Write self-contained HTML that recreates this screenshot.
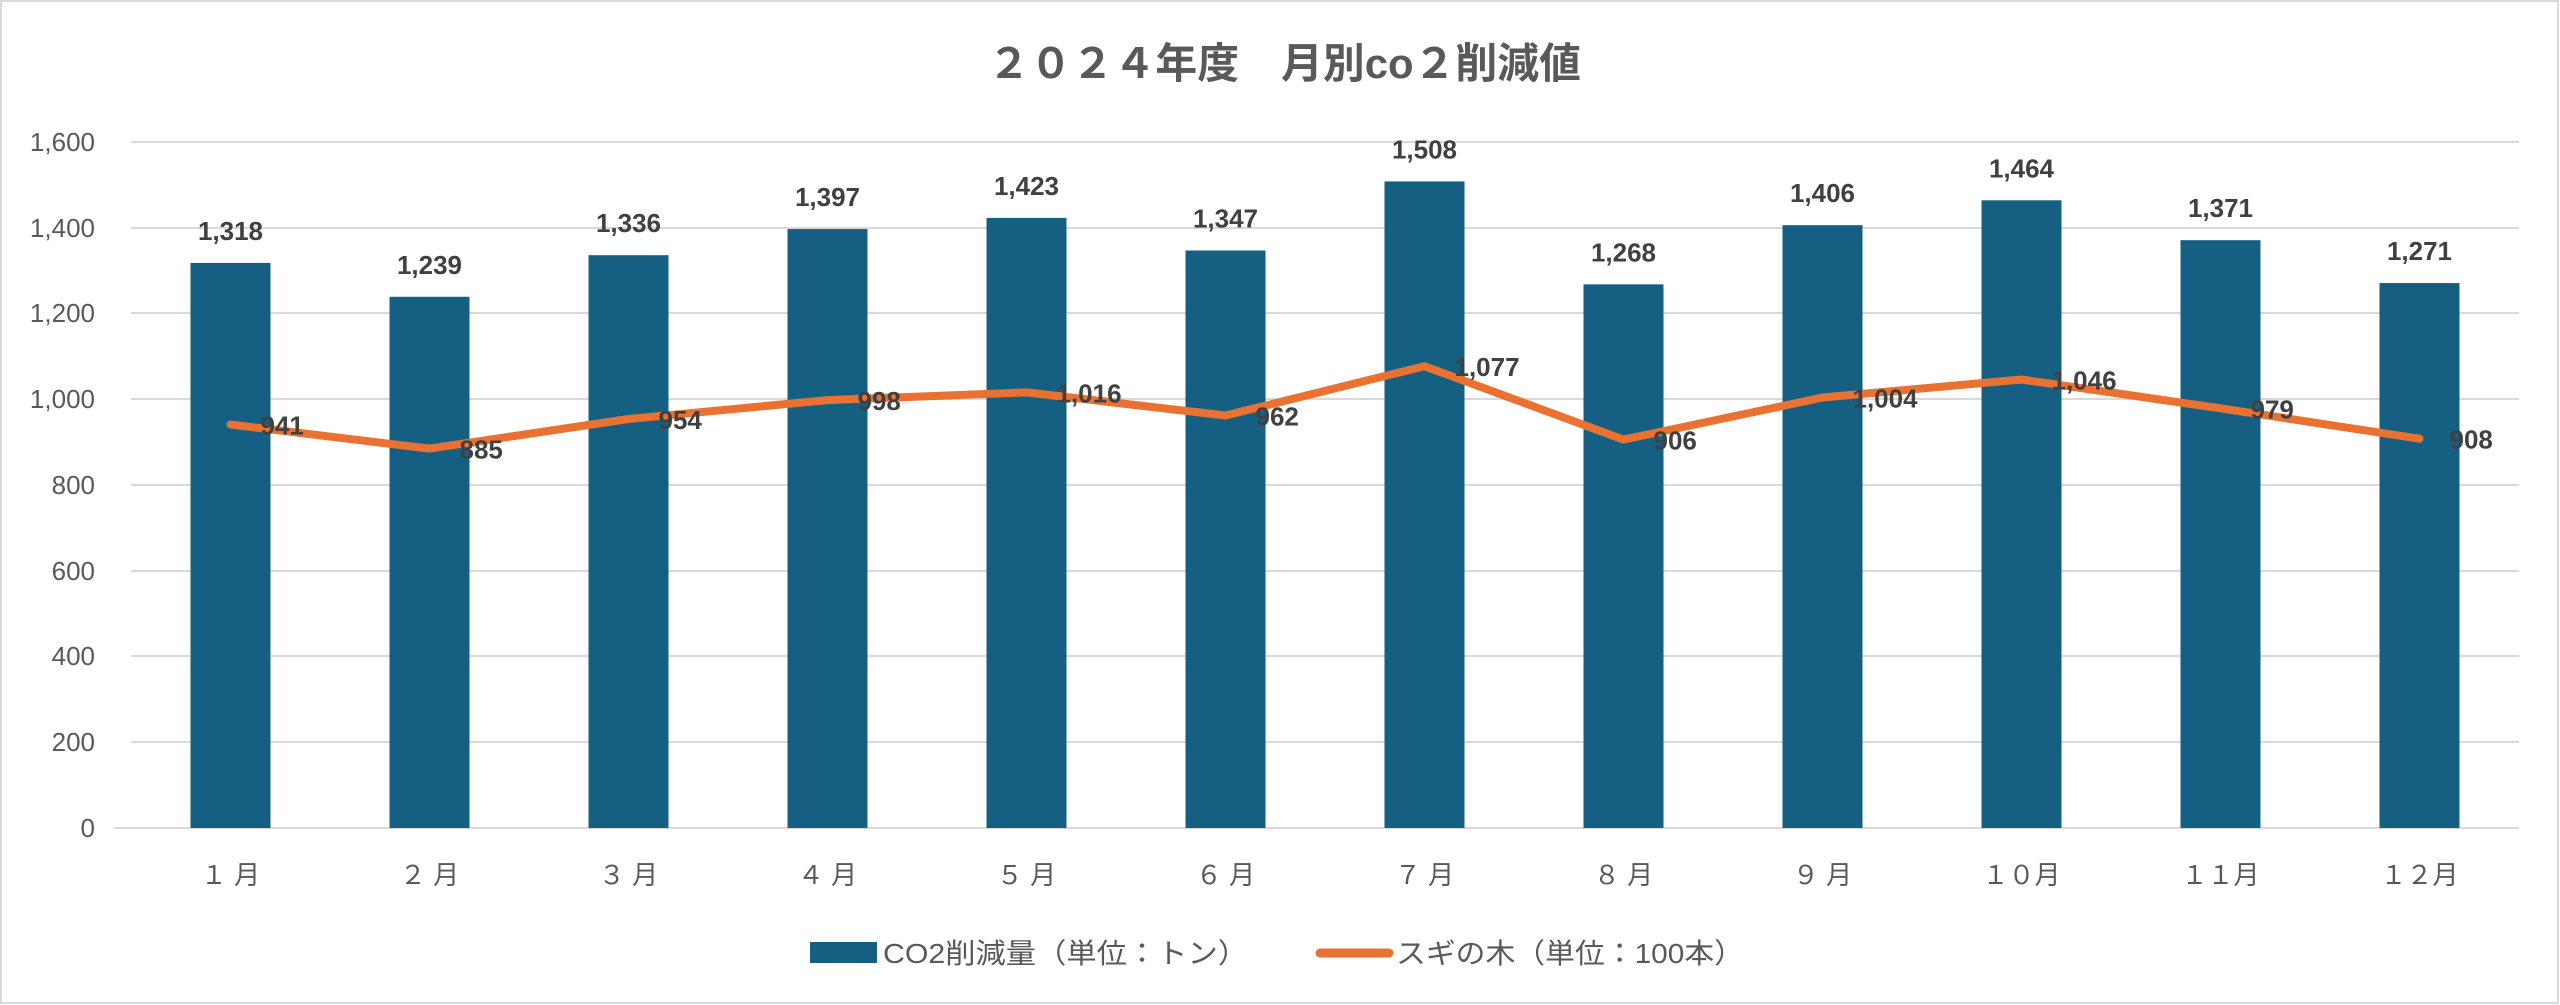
<!DOCTYPE html>
<html><head><meta charset="utf-8"><style>
html,body{margin:0;padding:0;background:#fff}
svg{display:block}
</style></head><body>
<svg width="2560" height="1005" viewBox="0 0 2560 1005" xmlns="http://www.w3.org/2000/svg">
<rect x="1" y="1" width="2557" height="1002" fill="#fff" stroke="#d9d9d9" stroke-width="2"/>
<text x="988" y="78" textLength="593" lengthAdjust="spacingAndGlyphs" font-family="'Liberation Sans','Noto Sans CJK JP',sans-serif" font-size="42" font-weight="bold" fill="#595959">２０２４年度　月別co２削減値</text>
<g stroke="#d9d9d9" stroke-width="2">
<line x1="131" x2="2519" y1="142" y2="142"/>
<line x1="131" x2="2519" y1="228" y2="228"/>
<line x1="131" x2="2519" y1="313" y2="313"/>
<line x1="131" x2="2519" y1="399" y2="399"/>
<line x1="131" x2="2519" y1="485" y2="485"/>
<line x1="131" x2="2519" y1="571" y2="571"/>
<line x1="131" x2="2519" y1="656" y2="656"/>
<line x1="131" x2="2519" y1="742" y2="742"/>
<line x1="114" x2="2519" y1="828" y2="828"/>
</g>
<g font-family="'Liberation Sans',sans-serif" font-size="26" fill="#595959" text-anchor="end">
<text x="95" y="151">1,600</text><text x="95" y="237">1,400</text><text x="95" y="322">1,200</text>
<text x="95" y="408">1,000</text><text x="95" y="494">800</text><text x="95" y="580">600</text>
<text x="95" y="665">400</text><text x="95" y="751">200</text><text x="95" y="837">0</text>
</g>
<g fill="#156082" id="bars"></g>
<g id="line"></g>
<g id="labels" font-family="'Liberation Sans',sans-serif" font-size="26" font-weight="bold" fill="#404040"></g>
<g id="xl" font-family="'Liberation Sans','Noto Sans CJK JP',sans-serif" font-size="26" fill="#595959" text-anchor="middle"></g>
<rect x="810" y="942" width="67" height="21" fill="#156082"/>
<text x="883" y="963" textLength="365" lengthAdjust="spacingAndGlyphs" font-family="'Liberation Sans','Noto Sans CJK JP',sans-serif" font-size="28" fill="#595959">CO2削減量（単位：トン）</text>
<line x1="1320" x2="1389" y1="953" y2="953" stroke="#E97132" stroke-width="9" stroke-linecap="round"/>
<text x="1396" y="963" textLength="348" lengthAdjust="spacingAndGlyphs" font-family="'Liberation Sans','Noto Sans CJK JP',sans-serif" font-size="28" fill="#595959">スギの木（単位：100本）</text>
</svg>
<script>
var co=[1318,1239,1336,1397,1423,1347,1508,1268,1406,1464,1371,1271];
var tr=[941,885,954,998,1016,962,1077,906,1004,1046,979,908];
var ns="http://www.w3.org/2000/svg";
function Y(v){return 828-v*0.42875;}
function el(t,a,p,txt){var e=document.createElementNS(ns,t);for(var k in a)e.setAttribute(k,a[k]);if(txt)e.textContent=txt;document.getElementById(p).appendChild(e);}
var pts=[];
var xlab=["１ 月","２ 月","３ 月","４ 月","５ 月","６ 月","７ 月","８ 月","９ 月","１０月","１１月","１２月"];
for(var i=0;i<12;i++){
 var cx=131+199*(i+0.5);
 el("rect",{x:cx-40,y:Y(co[i]),width:80,height:828-Y(co[i])},"bars");
 pts.push(cx+","+Y(tr[i]).toFixed(1));
 el("text",{x:cx,y:Y(co[i])-23,"text-anchor":"middle"},"labels",co[i].toLocaleString("en-US"));
 el("text",{x:cx+30,y:Y(tr[i])+10},"labels",tr[i].toLocaleString("en-US"));
 el("text",{x:cx,y:884},"xl",xlab[i]);
}
el("polyline",{points:pts.join(" "),fill:"none",stroke:"#E97132","stroke-width":8,"stroke-linejoin":"round","stroke-linecap":"round"},"line");
</script>
</body></html>
